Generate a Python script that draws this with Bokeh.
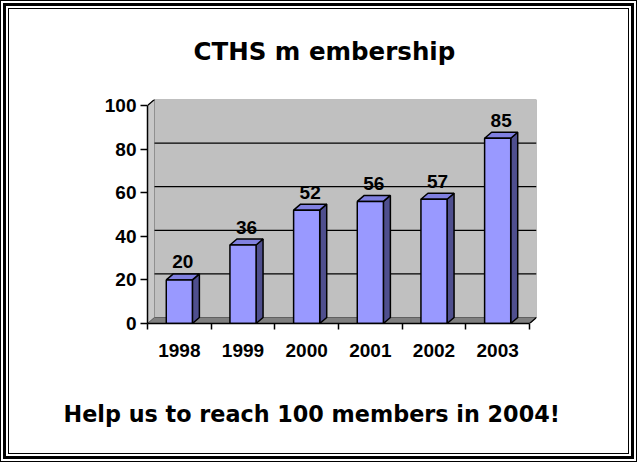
from bokeh.plotting import figure
from bokeh.models import Range1d, FixedTicker, Title, ColumnDataSource
from bokeh.core.properties import value
from bokeh.embed import file_html
from bokeh.resources import INLINE

# ---- data ----
years = ["1998", "1999", "2000", "2001", "2002", "2003"]
members = [20, 36, 52, 56, 57, 85]
y_ticks = [0, 20, 40, 60, 80, 100]
title_text = "CTHS m embership"
footer_text = "Help us to reach 100 members in 2004!"

# ---- layout ----
W, H = 637, 462
B_LEFT, B_RIGHT, B_TOP, B_BOTTOM = 147, 101, 99, 139
frame_w = W - B_LEFT - B_RIGHT
frame_h = H - B_TOP - B_BOTTOM
DEPTH_X_PX, DEPTH_Y_PX = 7, 6
n = len(years)
y_max = y_ticks[-1]
ppu_x = (frame_w - DEPTH_X_PX) / n
ppu_y = (frame_h - DEPTH_Y_PX) / y_max
dx = DEPTH_X_PX / ppu_x
dy = DEPTH_Y_PX / ppu_y
x_end = frame_w / ppu_x
y_end = frame_h / ppu_y
bar_w = 0.41

FRONT = "#9999FF"
SIDE = "#4F4F8E"
TOP = "#8080E0"
WALL = "#C0C0C0"
SIDE_WALL = "#C8C8C8"
FLOOR = "#808080"

p = figure(width=W, height=H, output_backend="svg", toolbar_location=None,
           x_range=Range1d(0, x_end), y_range=Range1d(0, y_end),
           min_border_left=B_LEFT, min_border_right=B_RIGHT,
           min_border_top=B_TOP, min_border_bottom=B_BOTTOM)
p.outline_line_color = None
p.background_fill_color = "white"
p.border_fill_color = None
p.styles = {
    "background-color": "white",
    "box-shadow": ("inset 0 0 0 1px black, inset 0 0 0 3px white, "
                   "inset 0 0 0 6px black, inset 0 0 0 8px white, "
                   "inset 0 0 0 9px black"),
}
p.xgrid.visible = False
p.ygrid.visible = False

# back wall
p.quad(left=[dx], right=[n + dx], bottom=[dy], top=[y_max + dy],
       fill_color=WALL, line_color="#909090", line_width=1)
# side wall
p.patch(x=[0, dx, dx, 0], y=[0, dy, y_max + dy, y_max],
        fill_color=SIDE_WALL, line_color="#909090", line_width=1)
# gridlines on back wall
g = [t for t in y_ticks if 0 < t < y_max]
p.segment(x0=[dx] * len(g), y0=[t + dy for t in g], x1=[n + dx] * len(g),
          y1=[t + dy for t in g], line_color="black", line_width=1.3)
# floor
p.patch(x=[0, n, n + dx, dx], y=[0, 0, dy, dy],
        fill_color=FLOOR, line_color="#606060", line_width=1)
# right edge of floor / side wall top edge
p.segment(x0=[n, 0], y0=[0, y_max], x1=[n + dx, dx], y1=[dy, y_max + dy],
          line_color="black", line_width=1.2)

# bars
centers = [i + 0.5 for i in range(n)]
lefts = [c - bar_w / 2 for c in centers]
rights = [c + bar_w / 2 for c in centers]
side_xs = [[r, r + dx, r + dx, r] for r in rights]
side_ys = [[0, dy, v + dy, v] for v in members]
top_xs = [[l, r, r + dx, l + dx] for l, r in zip(lefts, rights)]
top_ys = [[v, v, v + dy, v + dy] for v in members]
p.patches(xs=side_xs, ys=side_ys, fill_color=SIDE, line_color="black", line_width=1.5)
p.patches(xs=top_xs, ys=top_ys, fill_color=TOP, line_color="black", line_width=1.5)
p.quad(left=lefts, right=rights, bottom=[0] * n, top=members,
       fill_color=FRONT, line_color="black", line_width=1.5)

# value labels
src = ColumnDataSource(dict(x=centers, y=members, t=[str(v) for v in members]))
p.text(x="x", y="y", text="t", source=src, x_offset=DEPTH_X_PX / 2, y_offset=-18,
       text_align="center", text_baseline="alphabetic",
       text_font=value("Liberation Sans"), text_font_style="bold",
       text_font_size="19px", text_color="black")

# axes
ya = p.yaxis[0]
ya.ticker = FixedTicker(ticks=y_ticks)
ya.bounds = (0, y_max)
ya.major_tick_out = 7
ya.major_tick_in = 0
ya.minor_tick_out = 0
ya.minor_tick_in = 0
ya.major_label_standoff = 4
ya.axis_line_width = 1.5
ya.major_tick_line_width = 1.5
ya.major_label_text_font = "Liberation Sans"
ya.major_label_text_font_style = "bold"
ya.major_label_text_font_size = "19px"
ya.major_label_text_color = "black"

xa = p.xaxis[0]
xa.ticker = FixedTicker(ticks=centers, minor_ticks=list(range(n + 1)))
xa.major_label_overrides = {c: yr for c, yr in zip(centers, years)}
xa.bounds = (0, n)
xa.major_tick_out = 0
xa.major_tick_in = 0
xa.minor_tick_out = 6
xa.minor_tick_in = 0
xa.minor_tick_line_color = "black"
xa.minor_tick_line_width = 1.5
xa.axis_line_width = 1.5
xa.major_label_standoff = 14
xa.major_label_text_font = "Liberation Sans"
xa.major_label_text_font_style = "bold"
xa.major_label_text_font_size = "19px"
xa.major_label_text_color = "black"

# title & footer
p.title.text = title_text
p.title.align = "left"
p.title.offset = 46
p.title.standoff = 68
p.title.text_font = "DejaVu Sans"
p.title.text_font_style = "bold"
p.title.text_font_size = "24.5px"
p.title.text_color = "black"
# spacer between the x axis and the footer line
p.add_layout(Title(text=" ", text_font_size="1px", standoff=36), "below")
p.add_layout(Title(text=footer_text, align="left", offset=-84, standoff=0,
                   text_font="DejaVu Sans", text_font_style="bold",
                   text_font_size="22.3px", text_color="black"), "below")

open("out.html", "w").write(file_html(p, INLINE))
